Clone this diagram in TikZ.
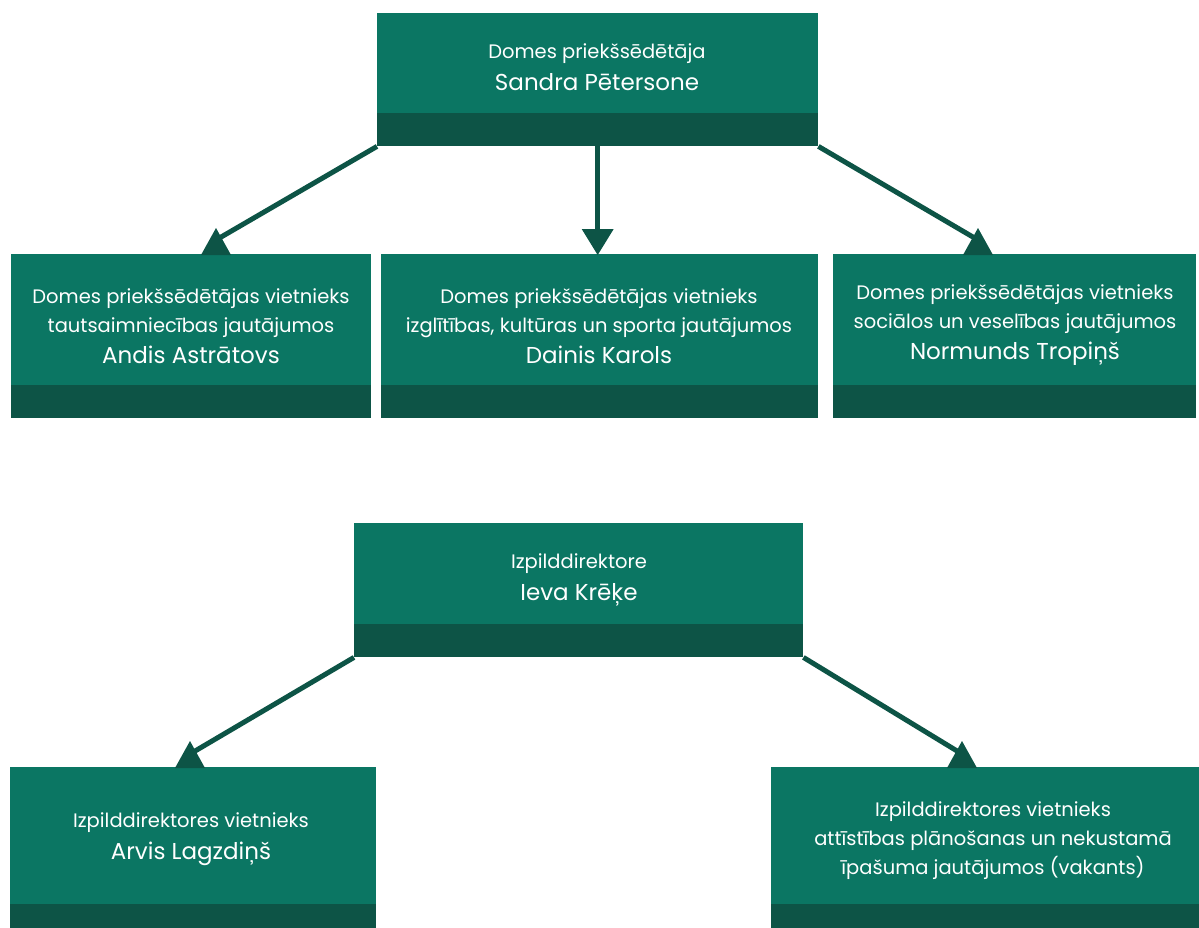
\documentclass[tikz,border=0pt]{standalone}
\usepackage{fontspec}
\setmainfont{Poppins}
\definecolor{boxc}{HTML}{0B7663}
\definecolor{bandc}{HTML}{0D5446}
\tikzset{
  orgbox/.style={draw=none, fill=boxc, anchor=north west, inner sep=0pt,
    path picture={\fill[bandc] (path picture bounding box.south west) rectangle ([yshift=#1]path picture bounding box.south east);}},
  orgbox/.default=33pt,
  txt/.style={text=white, align=center, font=\fontsize{19.5}{29}\selectfont, inner sep=0pt},
  conn/.style={draw=bandc, line width=5pt},
  tri/.style={fill=bandc},
}
\newcommand{\nm}[1]{{\fontsize{23}{31}\selectfont #1}}
\begin{document}
\begin{tikzpicture}[x=1pt,y=-1pt]
\useasboundingbox (0,0) rectangle (1199,928);
\clip (0,0) rectangle (1199,928);
% boxes
\node[orgbox, minimum width=441pt, minimum height=133pt] (top) at (377,13) {};
\node[orgbox, minimum width=360pt, minimum height=164pt] (b1) at (11,254) {};
\node[orgbox, minimum width=437pt, minimum height=164pt] (b2) at (381,254) {};
\node[orgbox, minimum width=363pt, minimum height=164pt] (b3) at (833,254) {};
\node[orgbox, minimum width=449pt, minimum height=134pt] (dir) at (354,523) {};
\node[orgbox=28pt, minimum width=366pt, minimum height=165pt] (c1) at (10,767) {};
\node[orgbox=28pt, minimum width=445pt, minimum height=165pt] (c2) at (771,767) {};
% texts
\node[txt] (ttop) at (597,67.5) {Domes priekšsēdētāja\\[3pt]\nm{Sandra Pētersone}};
\node[txt] (tb1) at (191,326) {Domes priekšsēdētājas vietnieks\\tautsaimniecības jautājumos\\[2pt]\nm{Andis Astrātovs}};
\node[txt] (tb2) at (599,326) {Domes priekšsēdētājas vietnieks\\izglītības, kultūras un sporta jautājumos\\[2pt]\nm{Dainis Karols}};
\node[txt] (tb3) at (1015,325) {Domes priekšsēdētājas vietnieks\\sociālos un veselības jautājumos\\[2pt]\nm{Normunds Tropiņš}};
\node[txt] (tdir) at (579,579.5) {Izpilddirektore\\[3pt]\nm{Ieva Krēķe}};
\node[txt] (tc1) at (191,839.5) {Izpilddirektores vietnieks\\[3pt]\nm{Arvis Lagzdiņš}};
\node[txt] (tc2) at (993,841) {Izpilddirektores vietnieks\\attīstības plānošanas un nekustamā\\īpašuma jautājumos (vakants)};
% arrow tips
\coordinate (a1) at (216,240);
\coordinate (a2) at (top.south |- 0,240);
\coordinate (a3) at (978,240);
\coordinate (a4) at (190,754);
\coordinate (a5) at (962,754);
% connectors
\draw[conn] (top.south west) -- (a1);
\draw[conn] (top.south) -- (a2);
\draw[conn] (top.south east) -- (a3);
\draw[conn] (dir.south west) -- (a4);
\draw[conn] (dir.south east) -- (a5);
% triangles
\fill[tri] (216,228) -- (231,255) -- (201,255) -- cycle;
\fill[tri] (a2) ++(0,15) -- ++(-16,-26) -- ++(32,0) -- cycle;
\fill[tri] (978,228) -- (993,255) -- (963,255) -- cycle;
\fill[tri] (190,741) -- (205,768) -- (175,768) -- cycle;
\fill[tri] (962,741) -- (977,768) -- (947,768) -- cycle;
\end{tikzpicture}
\end{document}
